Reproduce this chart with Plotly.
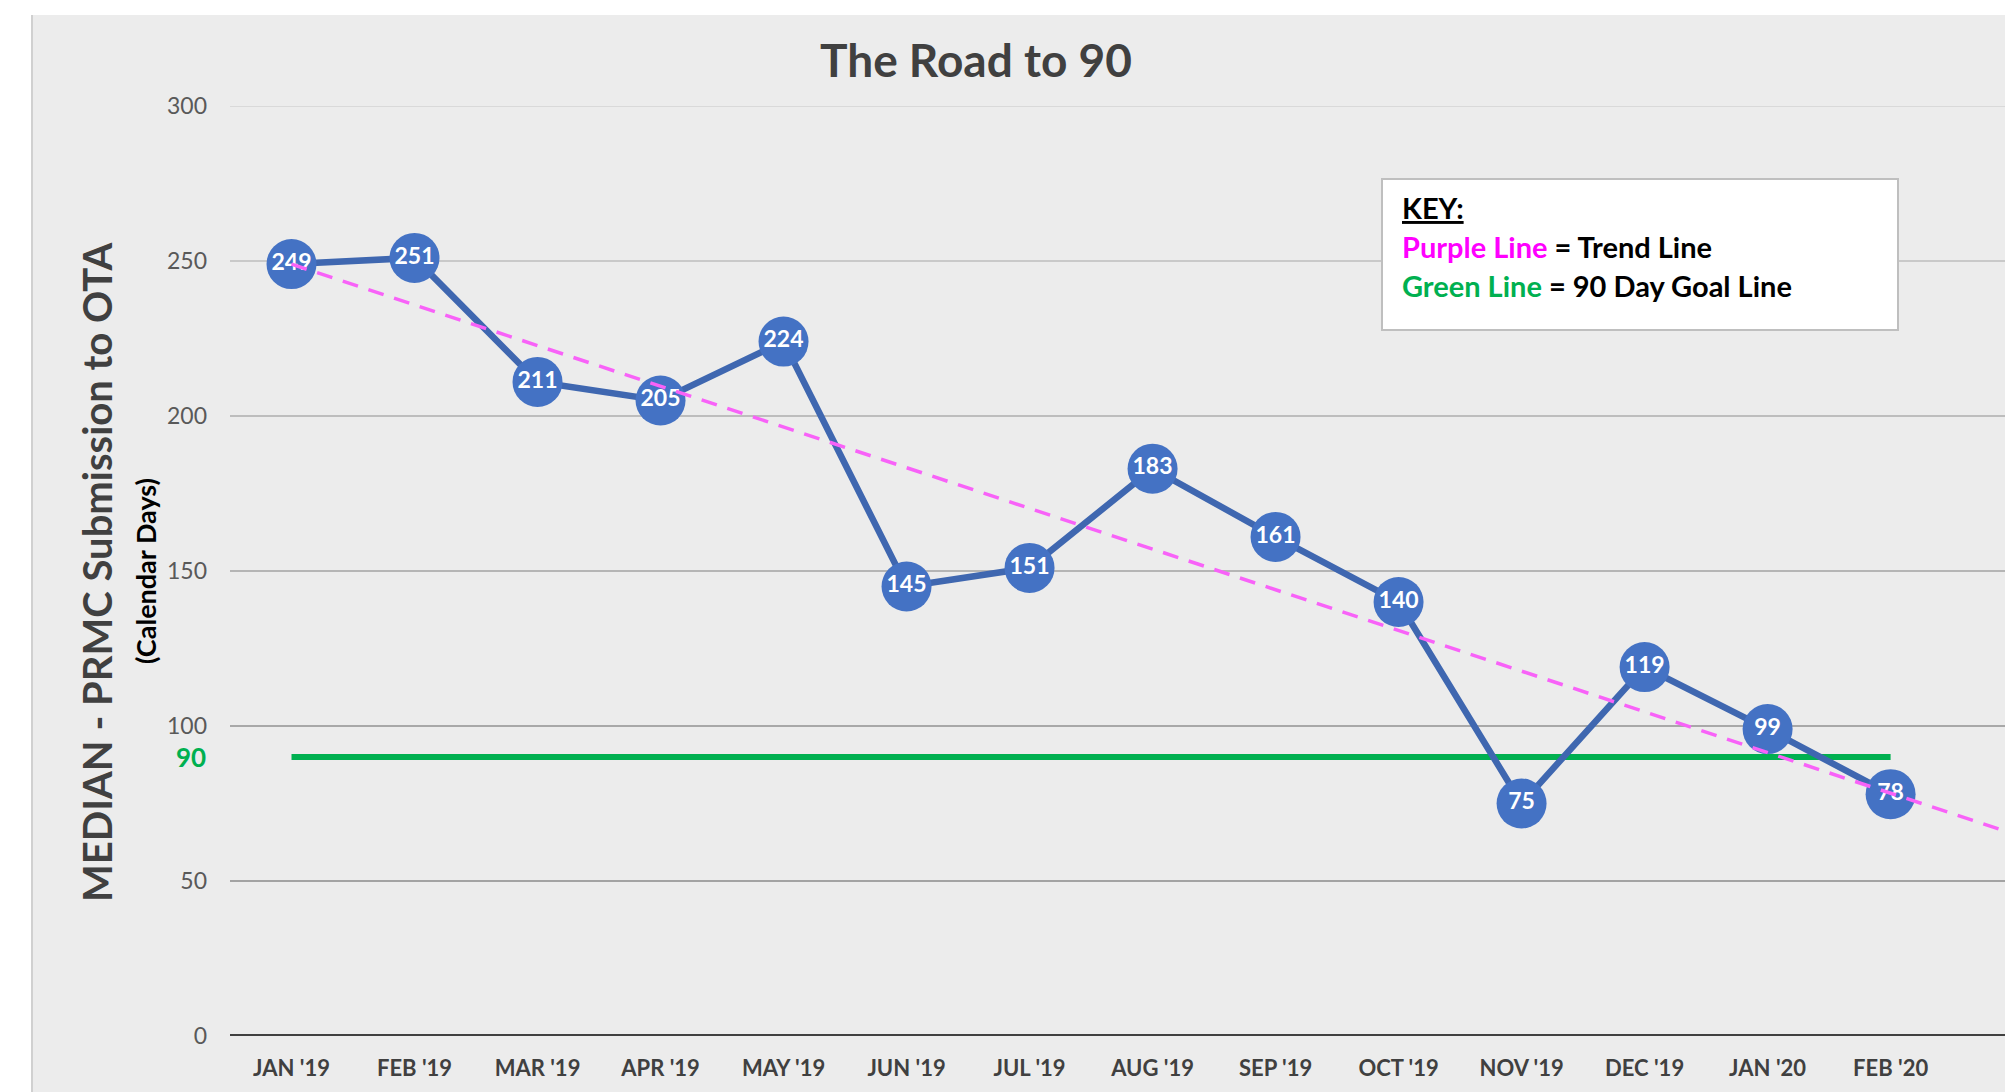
import numpy as np
import plotly.graph_objects as go

months = ["JAN '19", "FEB '19", "MAR '19", "APR '19", "MAY '19", "JUN '19", "JUL '19",
          "AUG '19", "SEP '19", "OCT '19", "NOV '19", "DEC '19", "JAN '20", "FEB '20"]
median_days = [249, 251, 211, 205, 224, 145, 151, 183, 161, 140, 75, 119, 99, 78]
goal_value = 90
y_ticks = [0, 50, 100, 150, 200, 250, 300]
grid_colors = ["#404040", "#A3A3A3", "#A8A8A8", "#B5B5B5", "#BDBDBD", "#C9C9C9", "#D9D9D9"]

W, H = 2005, 1092
ML, MR, MT, MB = 230, 0, 106, 56
PW, PH = W - ML - MR, H - MT - MB


def px(xp):
    return (xp - ML) / PW


def py(yp):
    return (H - MB - yp) / PH


idx = list(range(len(months)))
x_max = 13.93

# Linear trend line (Excel-style trendline) with forward extension
slope, intercept = np.polyfit(idx, median_days, 1)
trend_x = [0, x_max]
trend_y = [intercept + slope * v for v in trend_x]

fig = go.Figure()

# goal line
fig.add_trace(go.Scatter(
    x=[idx[0], idx[-1]], y=[goal_value, goal_value], mode="lines",
    line=dict(color="#00B050", width=6), hoverinfo="skip", showlegend=False))

# main series
fig.add_trace(go.Scatter(
    x=idx, y=median_days, mode="lines+markers+text",
    line=dict(color="#3F67B0", width=6.5),
    marker=dict(size=50, color="#4472C4", line=dict(width=0)),
    text=[str(v) for v in median_days], textposition="middle center",
    textfont=dict(family="Lato", size=23, color="white", weight="bold"),
    showlegend=False))

# trend line
fig.add_trace(go.Scatter(
    x=trend_x, y=trend_y, mode="lines",
    line=dict(color="#F862F8", width=3.5, dash="16px,11px"),
    hoverinfo="skip", showlegend=False))

shapes = []
# white strips on top and left of chart area
shapes.append(dict(type="rect", xref="paper", yref="paper", x0=px(0), x1=px(W), y0=py(15), y1=py(0),
                   fillcolor="white", line=dict(width=0), layer="below"))
shapes.append(dict(type="rect", xref="paper", yref="paper", x0=px(0), x1=px(31), y0=py(H), y1=py(0),
                   fillcolor="white", line=dict(width=0), layer="below"))
shapes.append(dict(type="line", xref="paper", yref="paper", x0=px(32), x1=px(32), y0=py(H), y1=py(15),
                   line=dict(color="#D0D0D0", width=2), layer="below"))
# gridlines
for v, c in zip(y_ticks, grid_colors):
    shapes.append(dict(type="line", xref="paper", yref="y", x0=0, x1=1, y0=v, y1=v,
                       line=dict(color=c, width=4 if v == 0 else 2), layer="below"))
# key box
shapes.append(dict(type="rect", xref="paper", yref="paper", x0=px(1382), x1=px(1898), y0=py(330), y1=py(179),
                   fillcolor="white", line=dict(color="#BFBFBF", width=2), layer="above"))

annotations = []
annotations.append(dict(xref="paper", yref="paper", x=px(976), y=py(60), text="<b>The Road to 90</b>",
                        showarrow=False, xanchor="center", yanchor="middle",
                        font=dict(family="Lato", size=46, color="#404040")))
annotations.append(dict(xref="paper", yref="paper", x=px(97), y=py(572),
                        text="<b>MEDIAN - PRMC Submission to OTA</b>", textangle=-90,
                        showarrow=False, xanchor="center", yanchor="middle",
                        font=dict(family="Lato", size=40, color="#404040")))
annotations.append(dict(xref="paper", yref="paper", x=px(145), y=py(571),
                        text="<b>(Calendar Days)</b>", textangle=-90,
                        showarrow=False, xanchor="center", yanchor="middle",
                        font=dict(family="Lato", size=27, color="#000000")))
annotations.append(dict(xref="paper", yref="y", x=0, y=goal_value, xshift=-22, text="<b>90</b>",
                        showarrow=False, xanchor="right", yanchor="middle",
                        font=dict(family="Lato", size=26, color="#00B050")))
key_lines = [
    "<b><u>KEY:</u></b>",
    "<b><span style='color:#FF00FF'>Purple Line</span> = Trend Line</b>",
    "<b><span style='color:#00B050'>Green Line</span> = 90 Day Goal Line</b>",
]
for i, t in enumerate(key_lines):
    annotations.append(dict(xref="paper", yref="paper", x=px(1400), y=py(208 + 38.5 * i), text=t,
                            showarrow=False, xanchor="left", yanchor="middle",
                            font=dict(family="Lato", size=29, color="#000000")))

fig.update_layout(
    width=W, height=H,
    margin=dict(l=ML, r=MR, t=MT, b=MB, pad=0),
    paper_bgcolor="#ECECEC", plot_bgcolor="#ECECEC",
    shapes=shapes, annotations=annotations,
    xaxis=dict(range=[-0.5, x_max], tickvals=idx, ticktext=months, showgrid=False, zeroline=False,
               showline=False, ticks="", ticklabelstandoff=17,
               tickfont=dict(family="Lato", size=22, color="#404040", weight="bold")),
    yaxis=dict(range=[0, 300], tickvals=y_ticks, showgrid=False, zeroline=False, showline=False,
               ticks="", ticklabelstandoff=22,
               tickfont=dict(family="Lato", size=23, color="#595959")),
)

fig.write_html("out.html", config={"displayModeBar": False},
               post_script="document.body.style.margin='0px';")
